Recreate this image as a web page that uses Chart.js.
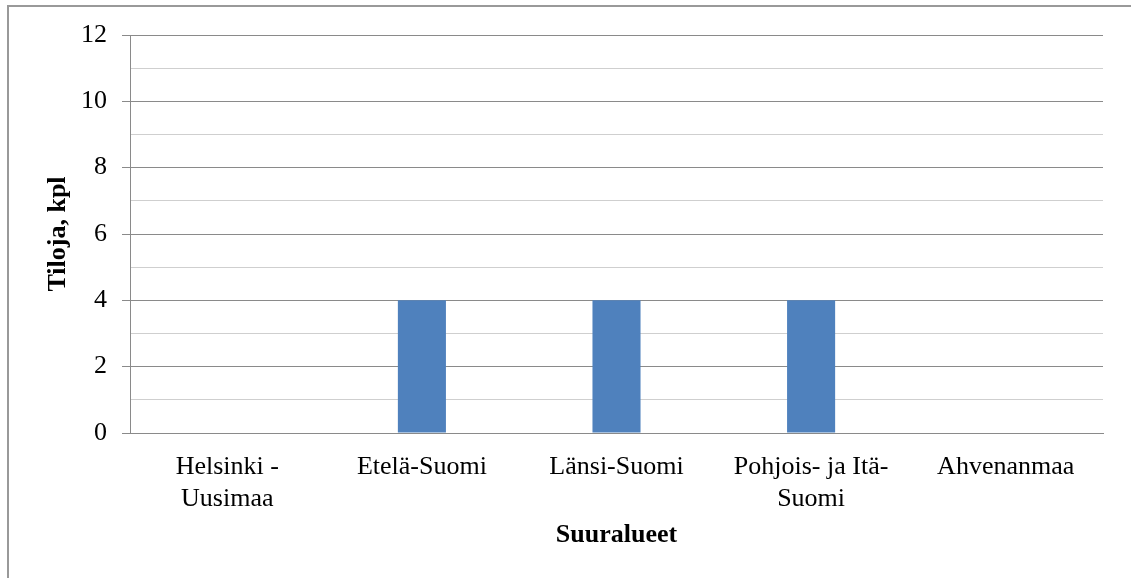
<!DOCTYPE html>
<html>
<head>
<meta charset="utf-8">
<script src="https://cdn.jsdelivr.net/npm/chart.js@4/dist/chart.umd.min.js"></script>
<style>
	html, body { margin: 0; padding: 0; background: #fff; overflow: hidden; }
	#frame {
		position: absolute; left: 7px; top: 5px; width: 1300px; height: 700px;
		border-left: 2px solid #999; border-top: 2px solid #999;
	}
	#wrap { position: absolute; left: 0; top: 0; width: 1131px; height: 578px; }
</style>
</head>
<body>
<div id="frame"></div>
<div id="wrap"><canvas id="bargraph"></canvas></div>
<script>
var regions = [
	["Helsinki -", "Uusimaa"],
	"Etelä-Suomi",
	"Länsi-Suomi",
	["Pohjois- ja Itä-", "Suomi"],
	"Ahvenanmaa"
];
var farms = [0, 4, 4, 4, 0];
var yTicks = [0, 2, 4, 6, 8, 10, 12];

var majorGrid = '#8a8a8a';
var minorGrid = '#cfcfcf';
var font = 'Liberation Serif, Times New Roman, serif';

var chartdata = {
	labels: regions,
	datasets: [
		{
			label: 'Tiloja, kpl',
			backgroundColor: '#4F81BD',
			borderWidth: 0,
			data: farms,
			barPercentage: 1,
			categoryPercentage: 0.247
		}
	]
};

var options = {
	responsive: false,
	animation: false,
	layout: { padding: { left: 0, top: 35, right: 28, bottom: 0 } },
	plugins: {
		legend: { display: false },
		tooltip: { enabled: false }
	},
	scales: {
		x: {
			grid: { display: false },
			border: { display: true, color: majorGrid, width: 1 },
			ticks: {
				color: '#000',
				padding: 11,
				maxRotation: 0,
				autoSkip: false,
				font: { family: font, size: 26, lineHeight: 1.2 }
			},
			title: {
				display: true,
				text: 'Suuralueet',
				color: '#000',
				padding: { top: 0, bottom: 28 },
				font: { family: font, size: 26, weight: 'bold', lineHeight: 1.15 }
			},
			afterFit: function(scale) { scale.height = 145; }
		},
		y: {
			min: 0,
			max: 12,
			grid: {
				color: function(c) { return c.tick && yTicks.indexOf(c.tick.value) < 0 ? minorGrid : majorGrid; },
				tickColor: function(c) { return c.tick && yTicks.indexOf(c.tick.value) < 0 ? 'rgba(0,0,0,0)' : majorGrid; },
				tickLength: 8,
				lineWidth: 1
			},
			border: { display: true, color: majorGrid, width: 1 },
			ticks: {
				stepSize: 1,
				maxTicksLimit: 20,
				autoSkip: false,
				color: '#000',
				padding: 15,
				font: { family: font, size: 26 },
				callback: function(v) { return yTicks.indexOf(v) < 0 ? '' : v; }
			},
			title: {
				display: true,
				text: 'Tiloja, kpl',
				color: '#000',
				padding: { top: 43, bottom: 0 },
				font: { family: font, size: 26, weight: 'bold', lineHeight: 1.15 }
			},
			afterFit: function(scale) { scale.width = 130; }
		}
	}
};

var canvas = document.getElementById('bargraph');
canvas.width = 1131;
canvas.height = 578;
var barGraph = new Chart(canvas, {
	type: 'bar',
	data: chartdata,
	options: options
});
</script>
</body>
</html>
